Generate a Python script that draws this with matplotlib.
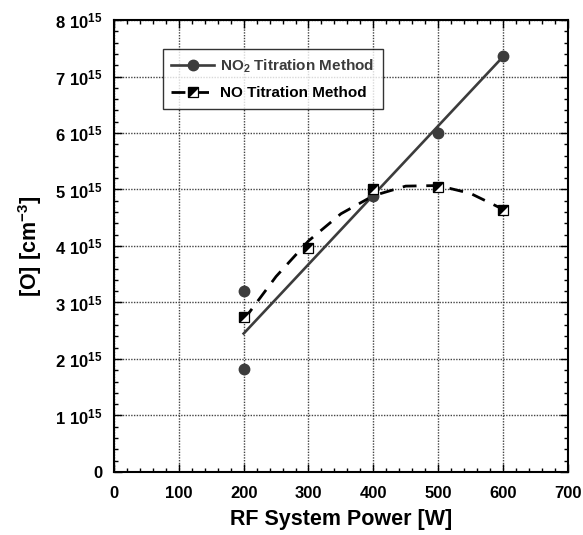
import matplotlib
matplotlib.use('Agg')
import matplotlib.pyplot as plt
from matplotlib.ticker import MultipleLocator, FixedLocator, FixedFormatter

plt.rcParams['font.family'] = ['Liberation Sans', 'DejaVu Sans']
plt.rcParams['font.weight'] = 'bold'
plt.rcParams['mathtext.fontset'] = 'custom'
plt.rcParams['mathtext.rm'] = 'Liberation Sans:bold'
plt.rcParams['mathtext.bf'] = 'Liberation Sans:bold'
plt.rcParams['mathtext.it'] = 'Liberation Sans:bold'

# NO2 titration measurements
no2_power = [200, 200, 400, 500, 600]
no2_conc = [3.20e15, 1.82e15, 4.885e15, 6.00e15, 7.37e15]
# linear fit line
no2_fit_power = [200, 600]
no2_fit_conc = [2.45e15, 7.35e15]

# NO titration measurements
no_power = [200, 300, 400, 500, 600]
no_conc = [2.74e15, 3.96e15, 5.00e15, 5.05e15, 4.64e15]
# dashed trend curve
no_fit_power = [200, 250, 300, 350, 400, 450, 500, 550, 600]
no_fit_conc = [2.69e15, 3.46e15, 4.09e15, 4.57e15, 4.89e15, 5.06e15, 5.07e15, 4.93e15, 4.65e15]

y_ticks = [0, 1e15, 2e15, 3e15, 4e15, 5e15, 6e15, 7e15, 8e15]
y_tick_labels = ['0'] + [r'$%d\ 10^{15}$' % i for i in range(1, 9)]

gray = '#3c3c3c'
half_square = [(-1, 1), (-1, -1), (1, 1), (-1, 1)]
dash = (5, 3.5)

fig = plt.figure(figsize=(5.83, 5.35), dpi=100)
ax = fig.add_axes([0.1955, 0.1178, 0.7785, 0.8448])

ax.plot(no2_fit_power, no2_fit_conc, color=gray, lw=1.9, zorder=3)
ax.plot(no2_power, no2_conc, 'o', color=gray, ms=7.5, zorder=4)

ax.plot(no_fit_power, no_fit_conc, color='black', lw=2.0, dashes=dash, zorder=3)
ax.plot(no_power, no_conc, 's', mfc='white', mec='black', mew=0.9, ms=7.5, zorder=5)
ax.plot(no_power, no_conc, marker=half_square, ls='none', color='black', ms=7, zorder=6)

# legend handles
h1, = ax.plot([], [], color=gray, lw=1.9, marker='o', ms=7.5)
h2a, = ax.plot([], [], color='black', lw=2.0, dashes=dash)
h2b, = ax.plot([], [], 's', mfc='white', mec='black', mew=0.9, ms=7.5)
h2c, = ax.plot([], [], marker=half_square, ls='none', color='black', ms=7)
leg = ax.legend([h1, (h2a, h2b, h2c)],
                [r'NO$_2$ Titration Method', 'NO Titration Method'],
                loc='upper left', bbox_to_anchor=(0.108, 0.936), borderaxespad=0,
                fontsize=11, frameon=True, fancybox=False, edgecolor='black',
                handlelength=2.8, borderpad=0.55, labelspacing=0.75, handletextpad=0.4)
leg.get_frame().set_linewidth(1.0)
leg.texts[0].set_color(gray)
leg.set_zorder(10)

ax.set_xlim(0, 700)
ax.set_ylim(0, 8e15)
ax.xaxis.set_major_locator(MultipleLocator(100))
ax.xaxis.set_minor_locator(MultipleLocator(20))
ax.yaxis.set_major_locator(FixedLocator(y_ticks))
ax.yaxis.set_major_formatter(FixedFormatter(y_tick_labels))
ax.yaxis.set_minor_locator(MultipleLocator(0.2e15))

ax.tick_params(which='both', direction='in', top=True, right=True, width=1)
ax.tick_params(which='major', length=6, labelsize=12)
ax.tick_params(which='minor', length=3)
ax.tick_params(axis='x', pad=10)
ax.tick_params(axis='y', pad=8)
ax.yaxis.offsetText.set_visible(False)

ax.grid(True, which='major', color='#444444', lw=1.0, linestyle=(0, (1, 1)))
for s in ax.spines.values():
    s.set_linewidth(1.5)

ax.set_xlabel('RF System Power [W]', fontsize=15.5, fontweight='bold', labelpad=6)
ax.set_ylabel(r'[O] [cm$^{-3}$]', fontsize=15.5, fontweight='bold', labelpad=8)

fig.savefig('out.png', dpi=100)
